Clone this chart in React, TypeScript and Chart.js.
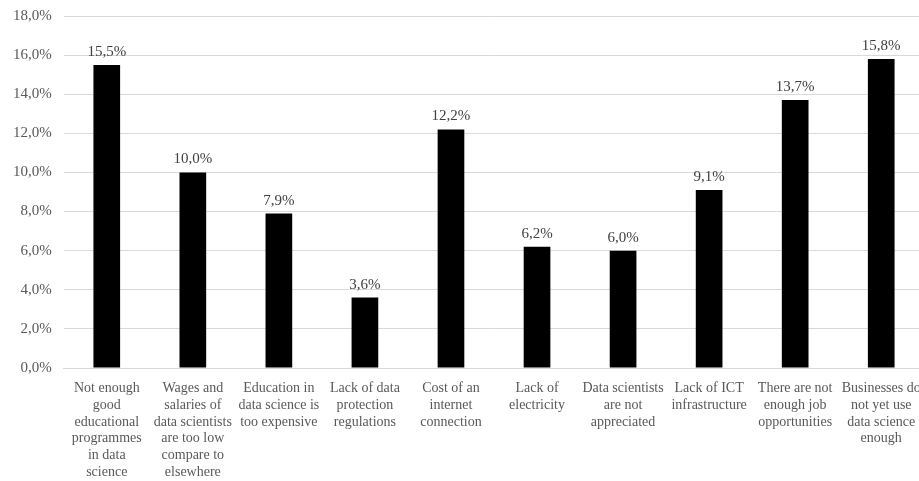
import React, { useEffect, useRef } from "react";
import { Chart, registerables } from "chart.js";

Chart.register(...registerables);

const categories: string[][] = [
  ["Not enough", "good", "educational", "programmes", "in data", "science"],
  ["Wages and", "salaries of", "data scientists", "are too low", "compare to", "elsewhere"],
  ["Education in", "data science is", "too expensive"],
  ["Lack of data", "protection", "regulations"],
  ["Cost of an", "internet", "connection"],
  ["Lack of", "electricity"],
  ["Data scientists", "are not", "appreciated"],
  ["Lack of ICT", "infrastructure"],
  ["There are not", "enough job", "opportunities"],
  ["Businesses do", "not yet use", "data science", "enough"],
];

const shares: number[] = [15.5, 10.0, 7.9, 3.6, 12.2, 6.2, 6.0, 9.1, 13.7, 15.8];

const yMin = 0;
const yMax = 18;
const yStep = 2;

const FONT = "'Liberation Serif', 'DejaVu Serif', serif";
const TEXT = "#595959";

const fmt = (v: number) => v.toFixed(1).replace(".", ",") + "%";

// Writes each bar's share just above its top.
const valueLabels = {
  id: "valueLabels",
  afterDatasetsDraw(chart: any) {
    const { ctx } = chart;
    const meta = chart.getDatasetMeta(0);
    ctx.save();
    ctx.font = `15px ${FONT}`;
    ctx.fillStyle = "#404040";
    ctx.textAlign = "center";
    ctx.textBaseline = "alphabetic";
    meta.data.forEach((bar: any, i: number) => {
      ctx.fillText(fmt(shares[i]), bar.x, bar.y - 9);
    });
    ctx.restore();
  },
};

export default function App() {
  const ref = useRef<HTMLCanvasElement | null>(null);

  useEffect(() => {
    if (!ref.current) return;
    const chart = new Chart(ref.current, {
      type: "bar",
      data: {
        labels: categories,
        datasets: [
          {
            data: shares,
            backgroundColor: "#000000",
            borderWidth: 0,
            barPercentage: 0.31,
            categoryPercentage: 1,
          },
        ],
      },
      options: {
        animation: false,
        responsive: false,
        maintainAspectRatio: false,
        layout: { padding: { left: 1, right: 6, top: 10, bottom: 0 } },
        plugins: {
          legend: { display: false },
          tooltip: { enabled: false },
        },
        scales: {
          x: {
            grid: { display: false, drawTicks: false },
            border: { display: true, color: "#d9d9d9" },
            ticks: {
              color: TEXT,
              font: { family: FONT, size: 14, lineHeight: 1.2 },
              maxRotation: 0,
              minRotation: 0,
              autoSkip: false,
              padding: 12,
            },
            afterFit(scale: any) {
              scale.height = 113;
            },
          },
          y: {
            min: yMin,
            max: yMax,
            grid: { color: "#d9d9d9", drawTicks: false },
            border: { display: false },
            ticks: {
              stepSize: yStep,
              color: TEXT,
              font: { family: FONT, size: 15 },
              padding: 12,
              callback: (v: any) => fmt(Number(v)),
            },
          },
        },
      },
      plugins: [valueLabels],
    });
    return () => chart.destroy();
  }, []);

  return (
    <div
      style={{
        position: "fixed",
        left: 0,
        top: 0,
        width: 919,
        height: 481,
        overflow: "hidden",
        background: "#ffffff",
      }}
    >
      <canvas
        ref={ref}
        width={933}
        height={486}
        style={{ display: "block", marginTop: -5 }}
      />
    </div>
  );
}
